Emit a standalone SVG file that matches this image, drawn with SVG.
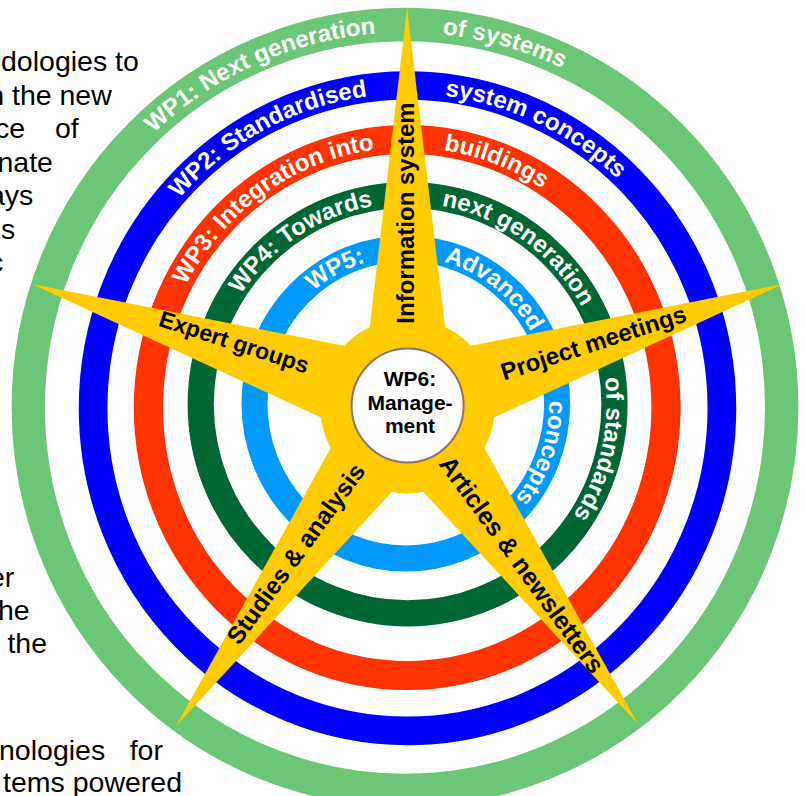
<svg xmlns="http://www.w3.org/2000/svg" width="805" height="796" viewBox="0 0 805 796">
  <defs>
    <style>
      .doc { font-family: "Liberation Sans", Arial, sans-serif; font-size: 28.5px; fill: #000; }
      .ring { fill: none; }
      .rtxt { font-family: "Liberation Sans", Arial, sans-serif; font-weight: bold; font-size: 24px; fill: #fff; }
      .arm { fill: #FFCC00; }
      .lbl { font-family: "Liberation Sans", Arial, sans-serif; font-weight: bold; fill: #000; text-anchor: middle; }
      .ctr { font-family: "Liberation Sans", Arial, sans-serif; font-weight: bold; font-size: 21px; fill: #000; text-anchor: middle; }
    </style>
    <!-- baselines for the ring captions (clockwise arcs, letters facing outward) -->
    <path id="p1a" d="M153.6,133.2 A368.7,375 0 0,1 437.1,33.9"/>
    <path id="p1b" d="M442.3,34.4 A368.7,375 0 0,1 616.5,100.3"/>
    <path id="p2a" d="M179.1,198.4 A306.4,314.7 0 0,1 434.2,94.7"/>
    <path id="p2b" d="M444.8,95.8 A306.4,314.7 0 0,1 658.5,227.7"/>
    <path id="p3a" d="M185.8,285.4 A250.8,260 0 0,1 429.1,148.5"/>
    <path id="p3b" d="M443.8,150.3 A250.8,260 0 0,1 584.5,223.7"/>
    <path id="p4a" d="M240.8,294.6 A198.9,201.2 0 0,1 424.9,203.8"/>
    <path id="p4b" d="M441.5,205.9 A198.9,201.2 0 0,1 594.5,335.4"/>
    <path id="p4c" d="M604.8,377.9 A198.9,201.2 0 0,1 560,533.5"/>
    <path id="p5a" d="M313.3,291.2 A143.3,147 0 0,1 380.9,258.7"/>
    <path id="p5b" d="M443.9,261.8 A143.3,147 0 0,1 540.5,353.2"/>
    <path id="p5c" d="M549.1,400.9 A143.3,147 0 0,1 497.9,516.1"/>
  </defs>

  <rect width="805" height="796" fill="#fff"/>

  <!-- surrounding document text, cropped at the left edge -->
  <g id="doc-text" class="doc">
    <text x="1" y="71">dologies to</text>
    <text x="-11.8" y="104.5">n the new</text>
    <text x="-5" y="138">ce</text>
    <text x="55" y="138">of</text>
    <text x="-2.5" y="171.5">nate</text>
    <text x="-11" y="205">ays</text>
    <text x="1" y="238.5">s</text>
    <text x="-11" y="272">c</text>
    <text x="-11" y="587">er</text>
    <text x="-2" y="620">he</text>
    <text x="7.4" y="653">the</text>
    <text x="-1" y="760">nologies</text>
    <text x="129.7" y="760">for</text>
    <text x="3" y="792">tems powered</text>
  </g>

  <!-- work package rings -->
  <g id="wp1">
    <ellipse class="ring" cx="405" cy="407.5" rx="376.7" ry="383" stroke="#6BC775" stroke-width="33.4"/>
    <text class="rtxt"><textPath href="#p1a">WP1: Next generation</textPath></text>
    <text class="rtxt"><textPath href="#p1b">of systems</textPath></text>
  </g>
  <g id="wp2">
    <ellipse class="ring" cx="407.5" cy="408.2" rx="314.4" ry="322.7" stroke="#0000FF" stroke-width="28.7"/>
    <text class="rtxt"><textPath href="#p2a">WP2: Standardised</textPath></text>
    <text class="rtxt"><textPath href="#p2b">system concepts</textPath></text>
  </g>
  <g id="wp3">
    <ellipse class="ring" cx="407.2" cy="407.5" rx="258.8" ry="268" stroke="#FF3300" stroke-width="29.2"/>
    <text class="rtxt"><textPath href="#p3a">WP3: Integration into</textPath></text>
    <text class="rtxt"><textPath href="#p3b">buildings</textPath></text>
  </g>
  <g id="wp4">
    <ellipse class="ring" cx="407.6" cy="404.2" rx="206.9" ry="209.2" stroke="#006633" stroke-width="26.2"/>
    <text class="rtxt"><textPath href="#p4a">WP4: Towards</textPath></text>
    <text class="rtxt"><textPath href="#p4b">next generation</textPath></text>
    <text class="rtxt"><textPath href="#p4c">of standards</textPath></text>
  </g>
  <g id="wp5">
    <ellipse class="ring" cx="405.8" cy="403.5" rx="151.3" ry="155" stroke="#0099FF" stroke-width="26"/>
    <text class="rtxt"><textPath href="#p5a">WP5:</textPath></text>
    <text class="rtxt"><textPath href="#p5b">Advanced</textPath></text>
    <text class="rtxt"><textPath href="#p5c">concepts</textPath></text>
  </g>

  <!-- star arms -->
  <g id="arm-information">
    <polygon class="arm" points="407,8 454.5,406 360.5,406"/>
  </g>
  <g id="arm-projects">
    <polygon class="arm" points="783,284 422,450.7 393,361.3"/>
  </g>
  <g id="arm-experts">
    <polygon class="arm" points="32,284 422,361.3 393,450.7"/>
  </g>
  <g id="arm-studies">
    <polygon class="arm" points="176,726 445.6,433.5 369.4,378.5"/>
  </g>
  <g id="arm-articles">
    <polygon class="arm" points="638,724 445.6,378.4 369.4,433.6"/>
  </g>

  <!-- hub with WP6 -->
  <g id="wp6">
    <circle cx="407.5" cy="406" r="87.5" fill="#FFCC00"/>
    <ellipse cx="407.6" cy="405.5" rx="56" ry="57" fill="#fff" stroke="#957070" stroke-width="2"/>
    <text class="ctr" x="410" y="386">WP6:</text>
    <text class="ctr" x="410" y="410">Manage-</text>
    <text class="ctr" x="410" y="433">ment</text>
  </g>

  <!-- arm captions -->
  <g id="labels">
    <text class="lbl" font-size="24" transform="translate(414,213) rotate(-90)">Information system</text>
    <text class="lbl" font-size="23" transform="translate(231.7,349.5) rotate(18)">Expert groups</text>
    <text class="lbl" font-size="24" transform="translate(595.9,350.7) rotate(-18)">Project meetings</text>
    <text class="lbl" font-size="24.5" transform="translate(302.6,558.7) rotate(-54)">Studies &amp; analysis</text>
    <text class="lbl" font-size="25" transform="translate(515,569.7) rotate(54)">Articles &amp; newsletters</text>
  </g>
</svg>
